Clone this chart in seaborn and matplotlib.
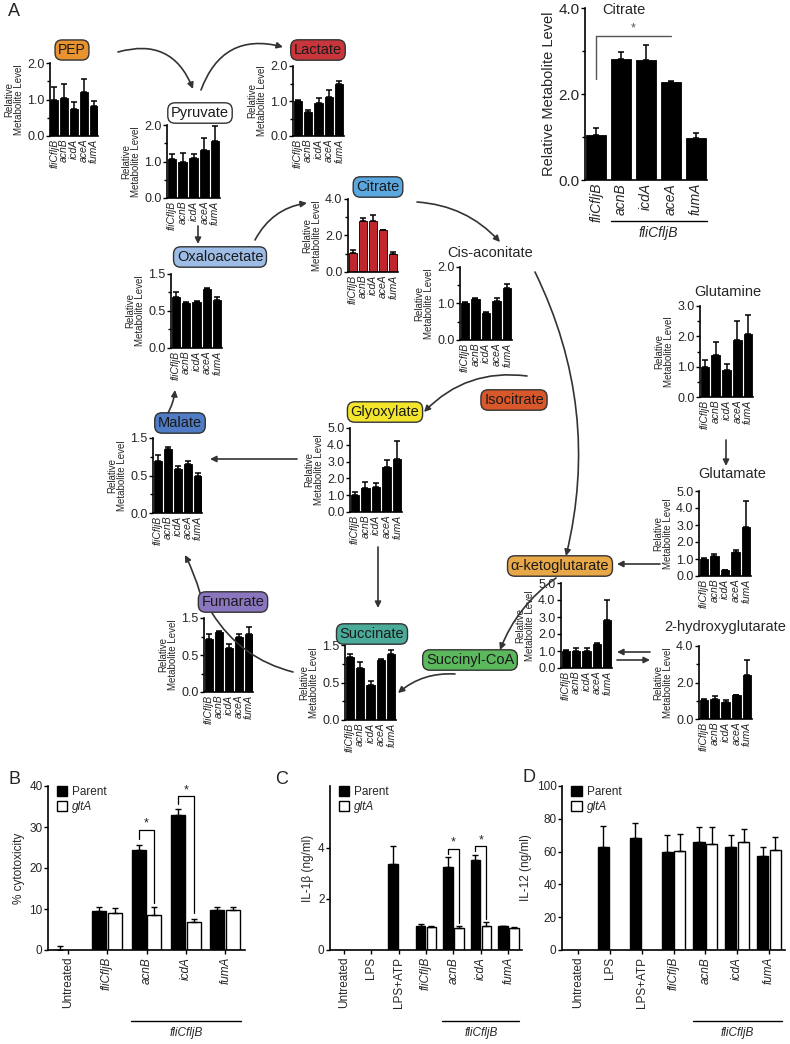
import numpy as np
import pandas as pd
import seaborn as sns
import matplotlib.pyplot as plt
from matplotlib.patches import Patch
from matplotlib.ticker import MultipleLocator
import matplotlib.transforms as mtrans

sns.set_theme(style="ticks")
plt.rcParams['font.family'] = ['Liberation Sans', 'DejaVu Sans']

W, H = 790, 1044

# ---- data: panel A (relative metabolite levels) ----
strains = ['fliCfljB', 'acnB', 'icdA', 'aceA', 'fumA']

pep = [1.0, 1.05, 0.75, 1.2, 0.82]
pep_err = [0.35, 0.38, 0.17, 0.35, 0.15]
pyruvate = [1.07, 0.98, 1.1, 1.32, 1.55]
pyruvate_err = [0.13, 0.25, 0.1, 0.32, 0.42]
lactate = [1.0, 0.7, 0.95, 1.12, 1.5]
lactate_err = [0.02, 0.05, 0.15, 0.2, 0.06]
citrate = [1.05, 2.82, 2.8, 2.28, 0.97]
citrate_err = [0.15, 0.15, 0.35, 0.02, 0.12]
cis_aconitate = [1.02, 1.13, 0.75, 1.08, 1.42]
cis_aconitate_err = [0.02, 0.03, 0.02, 0.08, 0.12]
oxaloacetate = [0.685, 0.61, 0.62, 0.80, 0.65]
oxaloacetate_err = [0.07, 0.01, 0.01, 0.01, 0.04]
malate = [0.70, 0.85, 0.59, 0.65, 0.49]
malate_err = [0.08, 0.03, 0.04, 0.04, 0.04]
glyoxylate = [1.0, 1.4, 1.5, 2.7, 3.15]
glyoxylate_err = [0.2, 0.4, 0.25, 0.4, 1.05]
glutamine = [1.0, 1.38, 0.9, 1.87, 2.07]
glutamine_err = [0.22, 0.44, 0.2, 0.63, 0.63]
glutamate = [1.0, 1.17, 0.35, 1.43, 2.9]
glutamate_err = [0.05, 0.13, 0.03, 0.12, 1.5]
akg = [1.0, 1.0, 1.0, 1.42, 2.85]
akg_err = [0.03, 0.15, 0.2, 0.08, 1.15]
hydroxyglutarate = [1.05, 1.1, 0.92, 1.3, 2.4]
hydroxyglutarate_err = [0.02, 0.15, 0.13, 0.03, 0.85]
fumarate = [0.72, 0.81, 0.6, 0.74, 0.78]
fumarate_err = [0.07, 0.01, 0.05, 0.04, 0.1]
succinate = [0.84, 0.7, 0.47, 0.8, 0.88]
succinate_err = [0.04, 0.08, 0.05, 0.02, 0.05]

# ---- data: panels B-D ----
b_groups = ['Untreated', 'fliCfljB', 'acnB', 'icdA', 'fumA']
b_parent = [0.0, 9.5, 24.5, 33.0, 9.7]
b_parent_err = [1.0, 1.0, 1.0, 1.3, 0.8]
b_glta = [np.nan, 9.0, 8.5, 6.8, 9.7]
b_glta_err = [0, 1.2, 2.0, 0.8, 0.8]

cd_groups = ['Untreated', 'LPS', 'LPS+ATP', 'fliCfljB', 'acnB', 'icdA', 'fumA']
c_parent = [0.0, 0.0, 3.35, 0.95, 3.22, 3.52, 0.92]
c_parent_err = [0, 0, 0.7, 0.07, 0.4, 0.17, 0.03]
c_glta = [np.nan, np.nan, np.nan, 0.9, 0.87, 0.95, 0.85]
c_glta_err = [0, 0, 0, 0.03, 0.07, 0.15, 0.05]
d_parent = [0.0, 63, 68.5, 59.5, 66, 63, 57.5]
d_parent_err = [0, 12.5, 9, 10.5, 9, 7, 5.5]
d_glta = [np.nan, np.nan, np.nan, 60.5, 64.5, 66, 61]
d_glta_err = [0, 0, 0, 10, 10.5, 8, 8]

italic_names = {'fliCfljB', 'acnB', 'icdA', 'aceA', 'fumA'}

fig = plt.figure(figsize=(W / 100, H / 100), dpi=100)
fig.patch.set_facecolor('white')


def px_axes(x0, y0, x1, y1):
    return fig.add_axes([x0 / W, 1 - y1 / H, (x1 - x0) / W, (y1 - y0) / H])


def style_axis(ax):
    sns.despine(ax=ax)
    for s in ['left', 'bottom']:
        ax.spines[s].set_linewidth(1.2)
        ax.spines[s].set_color('black')
    ax.tick_params(axis='both', which='major', length=3, width=1, color='black', pad=1)
    ax.tick_params(axis='y', which='minor', length=2, width=1, color='black')
    ax.set_xlabel('')


def mini(box, vals, errs, ymax, ticks, labels, minor=None, color='black',
         tick_fs=9, lab_fs=7.5, ylab='Relative\nMetabolite Level', ylab_fs=7):
    ax = px_axes(*box)
    sns.barplot(x=strains, y=vals, color=color, saturation=1, width=0.8,
                errorbar=None, edgecolor='black', linewidth=0.6, ax=ax)
    ax.errorbar(range(len(vals)), vals, yerr=[np.zeros(len(vals)), errs], fmt='none',
                ecolor='black', elinewidth=1.1, capsize=2.2, capthick=1.1)
    ax.set_xlim(-0.45, len(vals) - 0.55)
    ax.set_ylim(0, ymax)
    ax.set_yticks(ticks)
    ax.set_yticklabels(labels, fontsize=tick_fs)
    if minor:
        ax.yaxis.set_minor_locator(MultipleLocator(minor))
    ax.set_xticks(range(len(strains)))
    ax.set_xticklabels(strains, rotation=90, fontsize=lab_fs, style='italic',
                       linespacing=0.9)
    style_axis(ax)
    ax.tick_params(axis='x', length=0, pad=2)
    ax.set_ylabel(ylab, fontsize=ylab_fs, linespacing=1.0, labelpad=2)
    return ax


lab2 = ['0.0', '1.0', '2.0']
lab4 = ['0.0', '2.0', '4.0']
lab5 = ['0.0', '1.0', '2.0', '3.0', '4.0', '5.0']
labhalf = ['0.0', '0.5', '1.5']

mini((50, 63, 98, 136), pep, pep_err, 2, [0, 1, 2], lab2, 0.5)
mini((167, 125, 220, 198), pyruvate, pyruvate_err, 2, [0, 1, 2], lab2, 0.5)
mini((293, 66, 344, 136), lactate, lactate_err, 2, [0, 1, 2], lab2, 0.5)
mini((348, 199, 398, 272), citrate, citrate_err, 4, [0, 2, 4], lab4, 1, color='#c0272d')
mini((460, 267, 512, 340), cis_aconitate, cis_aconitate_err, 2, [0, 1, 2], lab2, 0.5)
mini((171, 274, 222, 348), oxaloacetate, oxaloacetate_err, 1.0, [0, 0.5, 1.0], labhalf, 0.25)
mini((153, 438, 202, 513), malate, malate_err, 1.0, [0, 0.5, 1.0], labhalf, 0.25)
mini((350, 428, 402, 512), glyoxylate, glyoxylate_err, 5, [0, 1, 2, 3, 4, 5], lab5)
mini((700, 306, 753, 397), glutamine, glutamine_err, 3, [0, 1, 2, 3],
     ['0.0', '1.0', '2.0', '3.0'], 0.5)
mini((699, 491, 751, 576), glutamate, glutamate_err, 5, [0, 1, 2, 3, 4, 5], lab5)
mini((561, 583, 612, 668), akg, akg_err, 5, [0, 1, 2, 3, 4, 5], lab5)
mini((699, 646, 752, 719), hydroxyglutarate, hydroxyglutarate_err, 4, [0, 2, 4], lab4, 1)
mini((204, 618, 253, 692), fumarate, fumarate_err, 1.0, [0, 0.5, 1.0], labhalf, 0.25)
mini((345, 645, 396, 720), succinate, succinate_err, 1.0, [0, 0.5, 1.0], labhalf, 0.25)

# big citrate chart (top right)
big = mini((585, 8, 707, 180), citrate, citrate_err, 4, [0, 2, 4], lab4, 1,
           tick_fs=11, lab_fs=10, ylab='Relative Metabolite Level', ylab_fs=10.5)
big.plot([0, 0, 3], [2.35, 3.35, 3.35], color='#555555', lw=1, clip_on=False)
big.text(1.5, 3.38, '*', ha='center', va='bottom', fontsize=9, color='#555555')
tr = mtrans.blended_transform_factory(big.transData, big.transAxes)
big.plot([0.6, 4.45], [-0.238, -0.238], color='black', lw=1, transform=tr, clip_on=False)
big.text(2.5, -0.27, 'fliCfljB', transform=tr, ha='center', va='top',
         fontsize=10, style='italic')


# ---- panels B-D ----
def grouped(box, groups, parent, parent_err, glta, glta_err, ymax, ticks, ylab, stars):
    ax = px_axes(*box)
    df = pd.DataFrame({
        'group': groups * 2,
        'strain': ['Parent'] * len(groups) + ['gltA'] * len(groups),
        'value': list(parent) + list(glta),
    })
    sns.barplot(data=df, x='group', y='value', hue='strain', order=groups,
                hue_order=['Parent', 'gltA'], palette={'Parent': 'black', 'gltA': 'white'},
                saturation=1, width=0.8, gap=0.12, errorbar=None, edgecolor='black',
                linewidth=1, legend=False, ax=ax)
    x = np.arange(len(groups))
    for off, v, e in [(-0.2, parent, parent_err), (0.2, glta, glta_err)]:
        v = np.array(v, dtype=float)
        e = np.array(e, dtype=float)
        keep = ~np.isnan(v) & (e > 0)
        ax.errorbar(x[keep] + off, v[keep], yerr=[np.zeros(keep.sum()), e[keep]],
                    fmt='none', ecolor='black', elinewidth=1, capsize=2.5, capthick=1)
    ax.set_xlim(-0.5, len(groups) - 0.5)
    ax.set_ylim(0, ymax)
    ax.set_yticks(ticks)
    ax.set_yticklabels([str(t) for t in ticks], fontsize=8.5)
    ax.set_xticks(x)
    ax.set_xticklabels(groups, rotation=90, fontsize=8.5)
    for t in ax.get_xticklabels():
        if t.get_text() in italic_names:
            t.set_style('italic')
    style_axis(ax)
    ax.tick_params(axis='x', length=3, pad=2)
    ax.set_ylabel(ylab, fontsize=8.5, labelpad=3)
    for gi, top, left_y, right_y in stars:
        ax.plot([gi - 0.2, gi - 0.2, gi + 0.2, gi + 0.2], [left_y, top, top, right_y],
                color='black', lw=0.9, clip_on=False)
        ax.text(gi, top, '*', ha='center', va='bottom', fontsize=9)
    tr = mtrans.blended_transform_factory(ax.transData, ax.transAxes)
    i0 = groups.index('acnB')
    ax.plot([i0 - 0.4, len(groups) - 0.6], [-0.43, -0.43], color='black', lw=1,
            transform=tr, clip_on=False)
    ax.text((i0 + len(groups) - 1) / 2, -0.47, 'fliCfljB', transform=tr, ha='center',
            va='top', fontsize=8.5, style='italic')
    handles = [Patch(facecolor='black', edgecolor='black', label='Parent'),
               Patch(facecolor='white', edgecolor='black', label='gltA')]
    leg = ax.legend(handles=handles, loc='upper left', bbox_to_anchor=(0.02, 1.03),
                    frameon=False, fontsize=8.5, handlelength=0.9, handleheight=0.9,
                    handletextpad=0.4, labelspacing=0.25, borderaxespad=0)
    leg.get_texts()[1].set_style('italic')
    return ax


grouped((48, 786, 245, 950), b_groups, b_parent, b_parent_err, b_glta, b_glta_err,
        40, [0, 10, 20, 30, 40], '% cytotoxicity',
        [(2, 29.3, 27.0, 11.5), (3, 37.5, 35.5, 9.0)])
grouped((330, 786, 522, 950), cd_groups, c_parent, c_parent_err, c_glta, c_glta_err,
        6.4, [0, 2, 4], 'IL-1β (ng/ml)',
        [(4, 3.95, 3.75, 1.05), (5, 4.05, 3.85, 1.2)])
grouped((562, 786, 785, 950), cd_groups, d_parent, d_parent_err, d_glta, d_glta_err,
        100, [0, 20, 40, 60, 80, 100], 'IL-12 (ng/ml)', [])

# ---- overlay: pathway boxes and arrows (pixel coordinates) ----
ov = fig.add_axes([0, 0, 1, 1], zorder=10)
ov.set_xlim(0, W)
ov.set_ylim(H, 0)
ov.axis('off')

boxes = [
    ('PEP', 72, 50, '#e8932f'),
    ('Pyruvate', 200, 113, 'white'),
    ('Lactate', 318, 50, '#c8363c'),
    ('Citrate', 378, 187, '#5ba8e0'),
    ('Oxaloacetate', 220, 257, '#9dbde6'),
    ('Malate', 180, 423, '#4f7cc4'),
    ('Glyoxylate', 385, 412, '#f2e52c'),
    ('Isocitrate', 514, 400, '#d9582b'),
    ('Fumarate', 233, 602, '#8a76bf'),
    ('Succinate', 372, 634, '#4aab9a'),
    ('Succinyl-CoA', 470, 660, '#5cb85c'),
    ('α-ketoglutarate', 560, 566, '#e8a848'),
]
for name, bx, by, fc in boxes:
    ov.text(bx, by, name, ha='center', va='center', fontsize=10.5 if name != 'PEP' else 10,
            color='#1a1a1a',
            bbox=dict(boxstyle='round,pad=0.22,rounding_size=0.5', fc=fc, ec='#333333', lw=1))

titles = [('Cis-aconitate', 490, 253), ('Glutamine', 728, 292), ('Glutamate', 732, 474),
          ('2-hydroxyglutarate', 725, 627), ('Citrate', 624, 10)]
for name, tx, ty in titles:
    ov.text(tx, ty, name, ha='center', va='center', fontsize=10.5)

arrows = [
    ((118, 52), (193, 89), -0.45, '-|>'),
    ((201, 90), (283, 47), -0.45, '-|>'),
    ((198, 226), (198, 244), 0, '-|>'),
    ((255, 240), (307, 203), -0.25, '-|>'),
    ((417, 202), (500, 242), -0.2, '-|>'),
    ((535, 272), (566, 556), -0.18, '-|>'),
    ((527, 376), (424, 412), 0.25, '-|>'),
    ((297, 459), (210, 459), 0, '-|>'),
    ((378, 547), (378, 608), 0, '-|>'),
    ((168, 413), (175, 390), 0.1, '-|>'),
    ((200, 593), (185, 555), 0.05, '-|>'),
    ((293, 672), (212, 613), -0.2, '-'),
    ((455, 674), (398, 693), 0.2, '-|>'),
    ((556, 578), (500, 650), 0.15, '-|>'),
    ((726, 440), (726, 466), 0, '-|>'),
    ((660, 564), (617, 564), 0, '-|>'),
    ((650, 652), (617, 652), 0, '-|>'),
    ((617, 660), (650, 660), 0, '-|>'),
]
for start, end, rad, style in arrows:
    ov.annotate('', xy=end, xytext=start,
                arrowprops=dict(arrowstyle=style, connectionstyle=f'arc3,rad={rad}',
                                color='#333333', lw=1.2, mutation_scale=9,
                                shrinkA=0, shrinkB=0))

for letter, lx, ly in [('A', 8, 12), ('B', 8, 780), ('C', 275, 780), ('D', 522, 778)]:
    ov.text(lx, ly, letter, fontsize=13, ha='left', va='center')

fig.savefig('out.png', dpi=100, facecolor='white')
